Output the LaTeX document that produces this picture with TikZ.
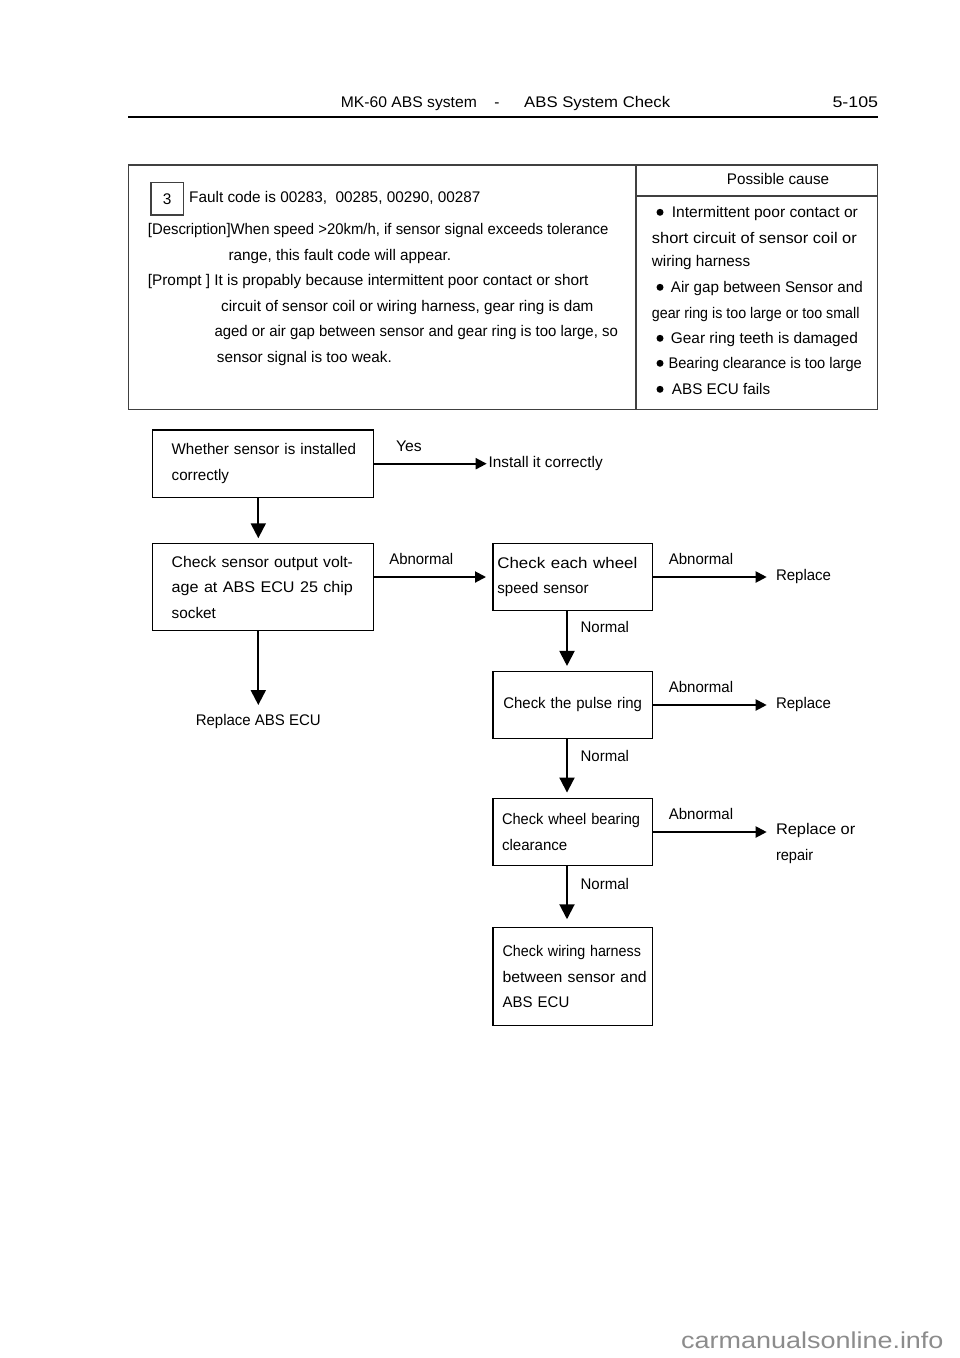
\documentclass[tikz,border=0pt]{standalone}
\usepackage{fontspec}
\setmainfont{Liberation Sans}
\usepackage{graphicx}
\usetikzlibrary{arrows.meta,calc}
\newcommand{\fitw}[2]{\resizebox{#1pt}{\height}{#2}}
\tikzset{
    txt/.style={inner sep=0pt, font=\fontsize{15.4}{25.5}\selectfont},
    ln/.style={txt, anchor=base west},
    lbl/.style={txt},
    flowbox/.style={draw, line width=1.5pt, inner ysep=0pt, align=left, font=\fontsize{15.4}{25.5}\selectfont},
    flow/.style={line width=2pt, -{Triangle[length=11pt,width=11pt]}},
    down/.style={line width=2pt, -{Triangle[length=15pt,width=15pt]}},
    frame/.style={draw=black!75, line width=1.2pt},
}

\begin{document}
\begin{tikzpicture}[x=1pt, y=-1pt]
    \useasboundingbox[fill=white] (0,0) rectangle (960,1358);

    \node[ln] (hdrl) at (340.7,107.2) {\fitw{136}{MK-60 ABS system}};
    \node[ln] (hdrd) at (494.2,107.2) {-};
    \node[ln] (hdrr) at (524,107.2) {\fitw{146}{ABS System Check}};
    \node[ln, anchor=base east] (page) at (878.3,107.2) {\fitw{45.6}{5-105}};
    \draw[line width=2.2pt] (128,116.7) -- (878,116.7);

    \draw[frame] (128.3,165) rectangle (877.3,409.3);
    \draw[frame] (636,165) -- (636,409.3);
    \draw[frame] (636,196) -- (877.3,196);
    \node[draw=black!75, line width=1.2pt, minimum size=32.3pt, inner sep=0pt, font=\fontsize{15.4}{18}\selectfont] (code) at (167.2,198.9) {3};
    \node[ln] (fault) at (189,202.5) {\fitw{291.3}{Fault code is 00283,\ \ 00285, 00290, 00287}};
    \node[ln] (desc1) at (147.7,234.8) {\fitw{460.6}{[Description]When speed >20km/h, if sensor signal exceeds tolerance}};
    \node[ln] (desc2) at (228.3,260.5) {\fitw{222.7}{range, this fault code will appear.}};
    \node[ln] (prompt1) at (147.7,285.5) {\fitw{440.6}{[Prompt ] It is propably because intermittent poor contact or short}};
    \node[ln] (prompt2) at (221,311.2) {\fitw{372.3}{circuit of sensor coil or wiring harness, gear ring is dam}};
    \node[ln] (prompt3) at (214.3,336.2) {\fitw{403.4}{aged or air gap between sensor and gear ring is too large, so}};
    \node[ln] (prompt4) at (216.7,362.2) {\fitw{175}{sensor signal is too weak.}};

    \node[ln] (posscause) at (726.7,184.5) {\fitw{102.3}{Possible cause}};
    \foreach \x/\y/\w/\t [count=\i] in {671.7/212.3/186/Intermittent poor contact or, 651.7/237.7/205/short circuit of sensor coil or, 651.7/260.7/98.3/wiring harness, 670.7/287.3/192/Air gap between Sensor and, 651.7/313.3/207.6/gear ring is too large or too small, 670.7/338.3/187/Gear ring teeth is damaged, 668.3/363.3/193.4/Bearing clearance is too large, 671.7/389.3/98.3/ABS ECU fails} {
        \node[ln] (cause\i) at (\x,\y+5.5) {\fitw{\w}{\t}};
    }
    \foreach \y in {212.3,287.3,338.3,363.3,389.3}
        \fill (660,\y) circle (3.5pt);

    \node[flowbox, text width=182.6pt, inner xsep=19pt, minimum height=67.3pt] (inst) at (263,463.7) {\fitw{184.3}{Whether sensor is installed}\\\fitw{57.3}{correctly}};
    \node[flowbox, text width=182.6pt, inner xsep=19pt, minimum height=87.4pt] (volt) at (263,587) {\fitw{181.3}{Check sensor output volt-}\\\fitw{181.3}{age at ABS ECU 25 chip}\\\fitw{44.3}{socket}};
    \node[flowbox, text width=150.7pt, inner xsep=4.3pt, minimum height=67.4pt] (wss) at (572.7,577) {\fitw{140}{Check each wheel}\\\fitw{91.3}{speed sensor}};
    \node[flowbox, align=center, text width=150.7pt, inner xsep=4.3pt, minimum height=66.6pt] (pulse) at (572.7,705) {\fitw{138.7}{Check the pulse ring}};
    \node[flowbox, text width=141.3pt, inner xsep=9pt, minimum height=67.4pt] (bear) at (572.7,832) {\fitw{138}{Check wheel bearing}\\\fitw{65.3}{clearance}};
    \node[flowbox, text width=140.1pt, inner xsep=9.6pt, minimum height=98pt] (wire) at (572.7,976.7) {\fitw{138.3}{Check wiring harness}\\\fitw{144}{between sensor and}\\\fitw{66.7}{ABS ECU}};

    \node[txt, anchor=west, outer xsep=2pt] (instok) at (486.7,463.7) {\fitw{114}{Install it correctly}};
    \node[txt, anchor=west, outer xsep=9.3pt] (rep1) at (766.7,577) {\fitw{55}{Replace}};
    \node[txt, anchor=west, outer xsep=9.3pt] (rep2) at (766.7,705) {\fitw{55}{Replace}};
    \node[txt, anchor=north west, align=left, outer xsep=9.3pt] (rep3) at (766.7,823.5) {\fitw{79.3}{Replace or}\\\fitw{37.3}{repair}};
    \node[txt, anchor=north, outer ysep=9.5pt] (repecu) at (258.3,705) {\fitw{125}{Replace ABS ECU}};

    \foreach \x/\y/\w/\t [count=\i] in {409/446/25.7/Yes, 421.3/559.3/64/Abnormal, 701/559.3/64.3/Abnormal, 701/686.7/64.3/Abnormal, 701/814.3/64.3/Abnormal, 604.8/627/48.3/Normal, 604.8/756/48.3/Normal, 604.8/884/48.3/Normal} {
        \node[lbl] (lbl\i) at (\x,\y) {\fitw{\w}{\t}};
    }

    \draw[flow] (inst.east) -- (instok.west);
    \draw[flow, shorten >=6.3pt] (volt.east |- wss.west) -- (wss.west);
    \draw[flow] (wss.east) -- (rep1.west);
    \draw[flow] (pulse.east) -- (rep2.west);
    \draw[flow] (bear.east) -- (bear.east -| rep3.west);
    \draw[down, shorten >=4.3pt] ([xshift=-4.7pt]inst.south) -- ([xshift=-4.7pt]volt.north);
    \draw[down] ([xshift=-4.7pt]volt.south) -- (repecu.north);
    \draw[down, shorten >=5pt] ([xshift=-5.7pt]wss.south) -- ([xshift=-5.7pt]pulse.north);
    \draw[down, shorten >=5pt] ([xshift=-5.7pt]pulse.south) -- ([xshift=-5.7pt]bear.north);
    \draw[down, shorten >=7.7pt] ([xshift=-5.7pt]bear.south) -- ([xshift=-5.7pt]wire.north);

    \node[txt, anchor=west, text=black!45] (wmark) at (681,1340.7) {\fontsize{23}{23}\selectfont\fitw{262.3}{carmanualsonline.info}};
\end{tikzpicture}
\end{document}
